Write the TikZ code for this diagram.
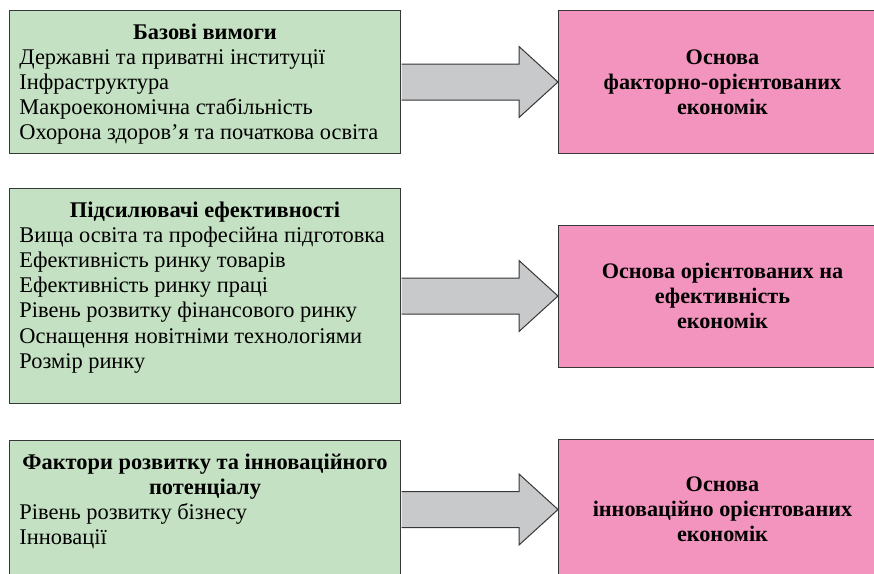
\documentclass[tikz,border=0pt]{standalone}
\usepackage{fontspec}
\setmainfont{Liberation Serif}
\usepackage{tikz}
\usetikzlibrary{
	positioning,
	calc
}

\definecolor{needgreen}{RGB}{197,225,195}
\definecolor{basepink}{RGB}{243,148,190}
\definecolor{shaftgray}{RGB}{200,201,203}
\definecolor{edgegray}{RGB}{55,55,55}

% green box text: bold centred heading, then the list
\newcommand{\needlist}[3]{\parbox[t][#1][t]{371pt}{\centering\textbf{#2}\par\raggedright #3}}

\begin{document}
\begin{tikzpicture}[
    x=1pt, y=1pt,
    node distance=34pt and 157pt,
    needbox/.style={rectangle, draw=edgegray, line width=1pt, fill=needgreen, inner xsep=10pt, inner ysep=13pt, font=\fontsize{22.4pt}{25.2pt}\selectfont},
    basebox/.style={rectangle, draw=edgegray, line width=1pt, fill=basepink, minimum width=328pt, align=center, font=\fontsize{22.2pt}{25pt}\selectfont\bfseries},
    fatarrow/.style={draw=edgegray, line width=1pt, fill=shaftgray}
]
\clip (0,0) rectangle (874,-573);

% Requirement groups
\node[needbox, anchor=north west] (g1) at (9,-10) {\needlist{117pt}{Базові вимоги}{%
Державні та приватні інституції\\
Інфраструктура\\
Макроекономічна стабільність\\
Охорона здоров’я та початкова освіта}};

\node[needbox, below=of g1] (g2) {\needlist{189pt}{Підсилювачі ефективності}{%
Вища освіта та професійна підготовка\\
Ефективність ринку товарів\\
Ефективність ринку праці\\
Рівень розвитку фінансового ринку\\
Оснащення новітніми технологіями\\
Розмір ринку}};

\node[needbox, below=36pt of g2] (g3) {\needlist{112pt}{Фактори розвитку та інноваційного\\ потенціалу}{%
Рівень розвитку бізнесу\\
Інновації}};

% Economy types
\node[basebox, right=of g1, minimum height=143pt] (p1) {Основа\\ факторно-орієнтованих\\ економік};
\node[basebox, right=of g2, minimum height=142pt] (p2) {Основа орієнтованих на\\ ефективність\\ економік};
\node[basebox, right=of g3, minimum height=140pt] (p3) {Основа\\ інноваційно орієнтованих\\ економік};

% Block arrows
\foreach \i in {1,2,3}
    \draw[fatarrow] ($(g\i.east |- p\i.west)+(0.5,18)$) -- ($(p\i.west)+(-39,18)$) -- ($(p\i.west)+(-39,35.5)$) -- (p\i.west) -- ($(p\i.west)+(-39,-35.5)$) -- ($(p\i.west)+(-39,-18)$) -- ($(g\i.east |- p\i.west)+(0.5,-18)$);

\end{tikzpicture}
\end{document}
